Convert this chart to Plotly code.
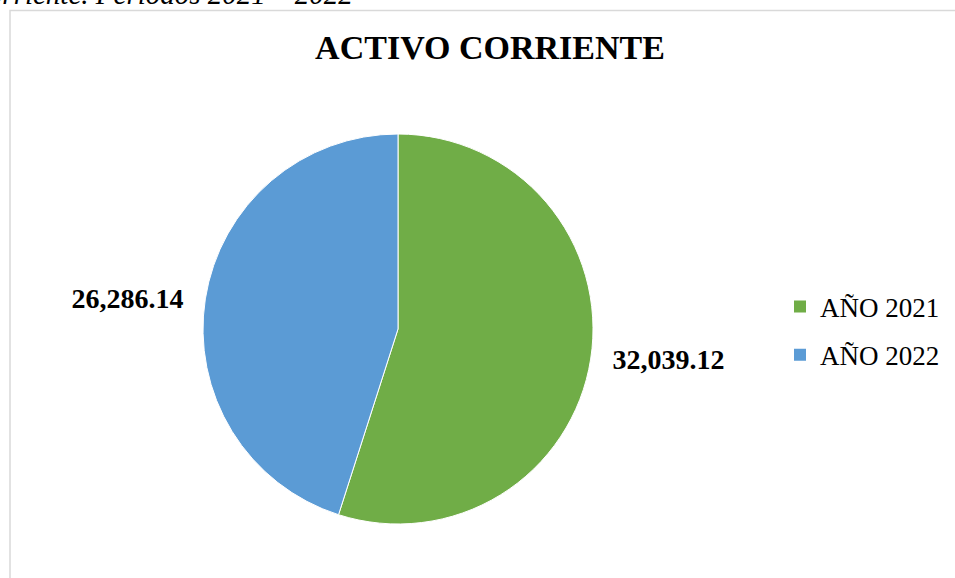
import plotly.graph_objects as go

labels = ["AÑO 2021", "AÑO 2022"]
values = [32039.12, 26286.14]
colors = ["#70AD47", "#5B9BD5"]
title_text = "ACTIVO CORRIENTE"
caption_text = "corriente. Periodos 2021 – 2022"

W, H = 955, 578
serif = "Liberation Serif, Times New Roman, serif"
pad = "\u00a0\u00a0"

fig = go.Figure()
fig.add_trace(go.Pie(
    labels=labels,
    values=values,
    marker=dict(colors=colors, line=dict(color="white", width=1)),
    sort=False,
    direction="clockwise",
    rotation=0,
    textposition="outside",
    texttemplate=[pad + "<b>%{value:,.2f}</b>", "<b>%{value:,.2f}</b>" + pad],
    textfont=dict(family=serif, size=28, color="black"),
    domain=dict(x=[203 / W, 593 / W], y=[54 / H, 444 / H]),
    hoverinfo="label+value",
    showlegend=False,
))

# legend entries (one group per year so the rows can be spaced like the original)
for lab, col in zip(labels, colors):
    fig.add_trace(go.Scatter(
        x=[None], y=[None], mode="markers", name=lab, legendgroup=lab,
        marker=dict(symbol="square", size=12, color=col),
        showlegend=True, hoverinfo="skip",
    ))

fig.update_layout(
    width=W, height=H,
    margin=dict(l=0, r=0, t=0, b=0),
    paper_bgcolor="white",
    plot_bgcolor="white",
    xaxis=dict(visible=False),
    yaxis=dict(visible=False),
    title=dict(text=f"<b>{title_text}</b>", x=490 / W, xanchor="center",
               y=1 - 47 / H, yanchor="middle",
               font=dict(family=serif, size=34, color="black")),
    legend=dict(x=780 / W, xanchor="left", y=1 - 331 / H, yanchor="middle",
                font=dict(family=serif, size=27, color="black"),
                tracegroupgap=10, traceorder="grouped",
                bgcolor="rgba(0,0,0,0)"),
    shapes=[dict(type="rect", xref="paper", yref="paper",
                 x0=10 / W, x1=1.05, y0=-0.05, y1=1 - 10.5 / H,
                 line=dict(color="#D9D9D9", width=1.5), layer="below")],
    annotations=[dict(text=f"<i>{caption_text}</i>", xref="paper", yref="paper",
                      x=355 / W, xanchor="right", y=1 + 6 / H, yanchor="middle",
                      showarrow=False,
                      font=dict(family=serif, size=29, color="black"))],
)

fig.write_html("out.html", config={"displayModeBar": False},
               post_script="document.body.style.margin='0';")
